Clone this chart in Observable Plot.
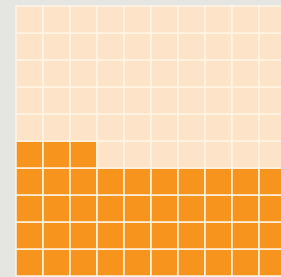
<!DOCTYPE html>
<html>
<head>
<meta charset="utf-8">
<script src="https://cdn.jsdelivr.net/npm/d3@7"></script>
<script src="https://cdn.jsdelivr.net/npm/@observablehq/plot@0.6"></script>
<style>
html, body { margin: 0; padding: 0; background: #e5e5e1; overflow: hidden; }
#chart svg { display: block; background: #e5e5e1; max-width: none !important; }
</style>
</head>
<body>
<div id="chart"></div>
<script>
const categories = ["Share", "Rest"];
const values = [43, 57];
const colors = ["#f7941d", "#fde4c8"];
const columns = 10;

// build the waffle units from the values
const units = [];
let k = 0;
categories.forEach((c, ci) => {
  for (let i = 0; i < values[ci]; i++, k++) {
    units.push({category: c, col: k % columns, row: Math.floor(k / columns)});
  }
});

const idx = d3.range(columns);
const chart = Plot.plot({
  width: 300,
  height: 290,
  marginLeft: 15,
  marginTop: 5,
  marginRight: 14,
  marginBottom: 14,
  x: {domain: idx, padding: 0, axis: null},
  y: {domain: idx.slice().reverse(), padding: 0, axis: null},
  color: {domain: categories, range: colors},
  style: {background: "#e5e5e1", maxWidth: "none"},
  marks: [
    Plot.cell(units, {x: "col", y: "row", fill: "category", stroke: "#fff4e6", strokeWidth: 1.5})
  ]
});
document.getElementById("chart").append(chart);
</script>
</body>
</html>
